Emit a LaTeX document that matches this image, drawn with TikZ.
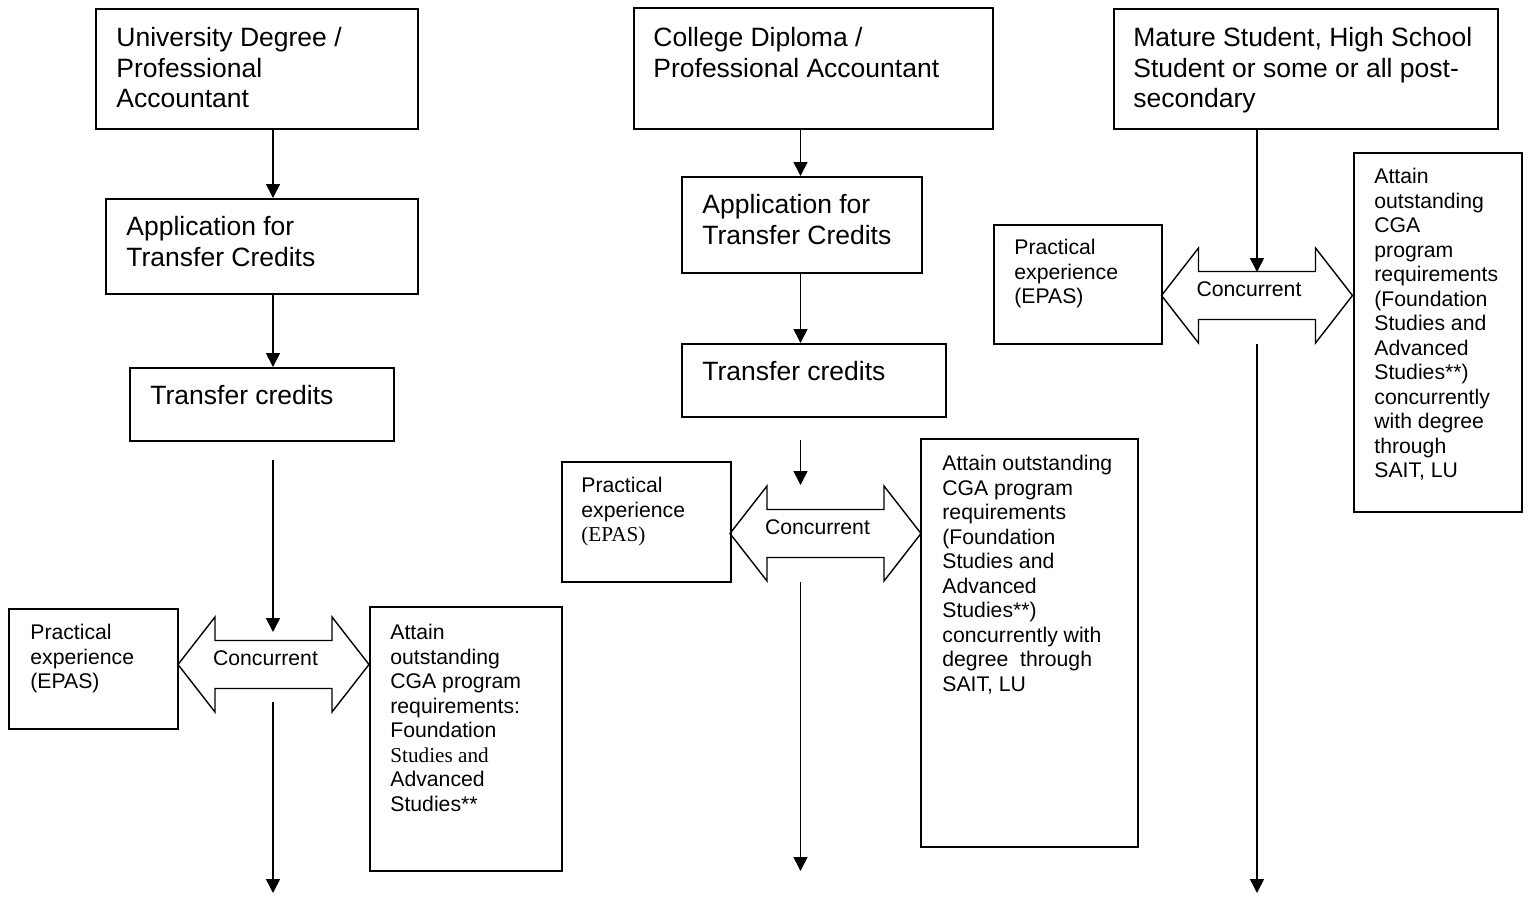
\documentclass[tikz,border=0pt]{standalone}
\usepackage{fontspec}
\setmainfont{Liberation Sans}
\newfontfamily\timesfont{Liberation Serif}
\usetikzlibrary{arrows.meta,calc}

\begin{document}
\begin{tikzpicture}[x=0.5pt,y=-0.5pt,
  box/.style={draw,line width=1pt,inner sep=0pt,anchor=north west},
  bigtext/.style={anchor=north west,inner sep=0pt,align=left,font=\fontsize{13.25}{15.25}\selectfont},
  smalltext/.style={anchor=north west,inner sep=0pt,align=left,font=\fontsize{10.6}{12.25}\selectfont},
  flow/.style={line width=0.8pt,-{Triangle[length=7pt,width=7pt]}},
  twoway/.style={draw,line width=0.7pt}]
\useasboundingbox (0,0) rectangle (1528,896);

% first column: university degree
\coordinate (axis1) at (273,0);
\node[box,minimum width=161pt,minimum height=60pt] (univ) at (95,8) {};
\node[bigtext] (univ-t) at ([shift={(21,19)}]univ.north west) {University Degree /\\Professional\\Accountant};
\node[box,minimum width=156pt,minimum height=47.5pt] (app1) at (105,198) {};
\node[bigtext] (app1-t) at ([shift={(21,18)}]app1.north west) {Application for\\Transfer Credits};
\node[box,minimum width=132pt,minimum height=36.5pt] (trans1) at (129,367) {};
\node[bigtext] (trans1-t) at ([shift={(21,18)}]trans1.north west) {Transfer credits};
\node[box,minimum width=84.5pt,minimum height=60pt] (prac1) at (8,608) {};
\node[smalltext] (prac1-t) at ([shift={(22,16)}]prac1.north west) {Practical\\experience\\(EPAS)};
\node[box,minimum width=96pt,minimum height=132pt] (attain1) at (369,606) {};
\node[smalltext] (attain1-t) at ([shift={(21,18)}]attain1.north west) {Attain\\outstanding\\CGA program\\requirements:\\Foundation\\{\timesfont Studies and}\\Advanced\\Studies**};
\coordinate (conc1) at (273.5,664.5);
\draw[twoway] ($(conc1)+(-95.5,0)$) -- ++(37,-47.5) -- ++(0,23.5) -- ++(117,0) -- ++(0,-23.5)
  -- ++(37,47.5) -- ++(-37,47.5) -- ++(0,-23.5) -- ++(-117,0) -- ++(0,23.5) -- cycle;
\node[smalltext,anchor=center] (conc1-t) at ($(conc1)+(-8,-6)$) {Concurrent};
\draw[flow] (univ.south -| axis1) -- (app1.north -| axis1);
\draw[flow] (app1.south -| axis1) -- (trans1.north -| axis1);
\coordinate (in1) at (273,460);
\coordinate (in1end) at (273,632);
\draw[flow] (in1) -- (in1end);
\coordinate (out1) at (273,702);
\coordinate (out1end) at (273,893);
\draw[flow] (out1) -- (out1end);

% second column: college diploma
\coordinate (axis2) at (800.5,0);
\node[box,minimum width=179.5pt,minimum height=60.5pt] (coll) at (633,7) {};
\node[bigtext] (coll-t) at ([shift={(20,20)}]coll.north west) {College Diploma /\\Professional Accountant};
\node[box,minimum width=120pt,minimum height=48pt] (app2) at (681,176) {};
\node[bigtext] (app2-t) at ([shift={(21,18)}]app2.north west) {Application for\\Transfer Credits};
\node[box,minimum width=132pt,minimum height=36.5pt] (trans2) at (681,343) {};
\node[bigtext] (trans2-t) at ([shift={(21,18)}]trans2.north west) {Transfer credits};
\node[box,minimum width=84.5pt,minimum height=60pt] (prac2) at (561,461) {};
\node[smalltext] (prac2-t) at ([shift={(20,16)}]prac2.north west) {Practical\\experience\\{\timesfont (EPAS)}};
\node[box,minimum width=108.5pt,minimum height=204pt] (attain2) at (920,438) {};
\node[smalltext] (attain2-t) at ([shift={(22,17)}]attain2.north west) {Attain outstanding\\CGA program\\requirements\\(Foundation\\Studies and\\Advanced\\Studies**)\\concurrently with\\degree\ \ through\\SAIT, LU};
\coordinate (conc2) at (825.5,533.5);
\draw[twoway] ($(conc2)+(-95.5,0)$) -- ++(37,-47.5) -- ++(0,23.5) -- ++(117,0) -- ++(0,-23.5)
  -- ++(37,47.5) -- ++(-37,47.5) -- ++(0,-23.5) -- ++(-117,0) -- ++(0,23.5) -- cycle;
\node[smalltext,anchor=center] (conc2-t) at ($(conc2)+(-8,-6)$) {Concurrent};
\draw[flow] (coll.south -| axis2) -- (app2.north -| axis2);
\draw[flow] (app2.south -| axis2) -- (trans2.north -| axis2);
\coordinate (in2) at (800.5,440);
\coordinate (in2end) at (800.5,485);
\draw[flow] (in2) -- (in2end);
\coordinate (out2) at (800.5,582);
\coordinate (out2end) at (800.5,871);
\draw[flow] (out2) -- (out2end);

% third column: mature student
\coordinate (axis3) at (1257,0);
\node[box,minimum width=192pt,minimum height=60pt] (mature) at (1113,8) {};
\node[bigtext] (mature-t) at ([shift={(20,19)}]mature.north west) {Mature Student, High School\\Student or some or all post-\\secondary};
\node[box,minimum width=84pt,minimum height=59.5pt] (prac3) at (993,224) {};
\node[smalltext] (prac3-t) at ([shift={(21,15)}]prac3.north west) {Practical\\experience\\(EPAS)};
\node[box,minimum width=84pt,minimum height=179.5pt] (attain3) at (1353,152) {};
\node[smalltext] (attain3-t) at ([shift={(21,16)}]attain3.north west) {Attain\\outstanding\\CGA\\program\\requirements\\(Foundation\\Studies and\\Advanced\\Studies**)\\concurrently\\with degree\\through\\SAIT, LU};
\coordinate (conc3) at (1257,295.5);
\draw[twoway] ($(conc3)+(-95.5,0)$) -- ++(37,-47.5) -- ++(0,23.5) -- ++(117,0) -- ++(0,-23.5)
  -- ++(37,47.5) -- ++(-37,47.5) -- ++(0,-23.5) -- ++(-117,0) -- ++(0,23.5) -- cycle;
\node[smalltext,anchor=center] (conc3-t) at ($(conc3)+(-8,-6)$) {Concurrent};
\coordinate (in3end) at (1257,272);
\draw[flow] (mature.south -| axis3) -- (in3end);
\coordinate (out3) at (1257,344);
\coordinate (out3end) at (1257,893);
\draw[flow] (out3) -- (out3end);
\end{tikzpicture}
\end{document}
